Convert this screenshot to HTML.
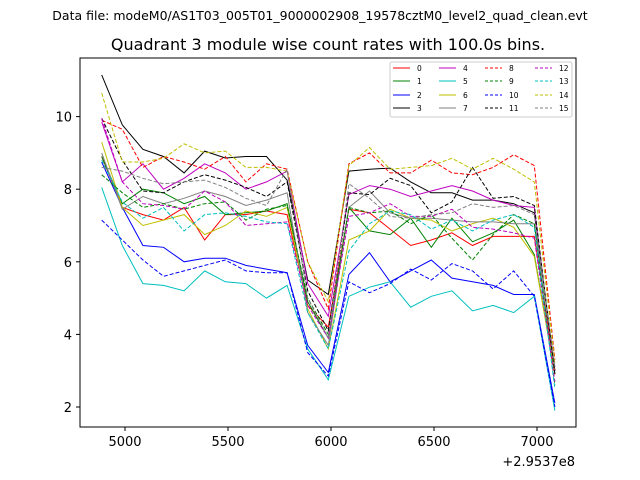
<!DOCTYPE html>
<html><head><meta charset="utf-8"><style>body{margin:0;background:#fff}svg{display:block;font-family:"DejaVu Sans","Liberation Sans",sans-serif}</style></head>
<body>
<svg id="chart" width="640" height="480" xmlns="http://www.w3.org/2000/svg">
<rect width="640" height="480" fill="#fff"/>
<text x="320" y="20" font-size="12.5" text-anchor="middle">Data file: modeM0/AS1T03_005T01_9000002908_19578cztM0_level2_quad_clean.evt</text>
<text x="328" y="50" font-size="16" text-anchor="middle">Quadrant 3 module wise count rates with 100.0s bins.</text>
<g id="grid"></g>
<g id="marks"></g>
<rect x="80" y="58" width="496" height="369" fill="none" stroke="#000" stroke-width="1"/>
<g id="axes"></g>
<text x="575" y="466" font-size="13" text-anchor="end">+2.9537e8</text>
<g id="legend"></g>
</svg>
<script>
const tStart = 4887, tStep = 100;
const xTicks = [5000, 5500, 6000, 6500, 7000];
const yTicks = [2, 4, 6, 8, 10];
const seriesNames = ["0","1","2","3","4","5","6","7","8","9","10","11","12","13","14","15"];
const s0 = [8.9,7.5,7.3,7.15,7.5,6.6,7.3,7.3,7.4,7.3,4.8,4.2,7.45,7.35,6.9,6.45,6.6,6.8,6.45,6.7,6.7,6.7,3.0];
const s1 = [8.9,7.6,8.0,7.9,7.6,7.8,7.3,7.35,7.4,7.6,4.9,3.9,7.5,6.85,6.75,7.2,6.4,7.2,6.55,6.8,7.15,6.2,2.9];
const s2 = [8.75,7.5,6.45,6.4,6.0,6.1,6.1,5.9,5.8,5.7,3.7,2.95,5.65,6.25,5.45,5.75,6.05,5.55,5.45,5.35,5.1,5.1,2.1];
const s3 = [11.15,9.77,9.1,8.9,8.45,9.05,8.86,8.9,8.9,8.25,5.5,5.1,8.5,8.55,8.58,8.2,7.9,7.9,7.7,7.7,7.6,7.35,3.0];
const s4 = [9.85,8.2,8.7,8.0,8.3,8.7,8.45,8.0,8.2,8.5,5.4,4.5,7.85,8.1,8.0,7.8,7.95,8.1,7.95,7.7,7.55,7.5,2.9];
const s5 = [8.05,6.45,5.4,5.35,5.2,5.75,5.45,5.4,5.0,5.35,3.6,2.75,5.05,5.3,5.45,4.75,5.05,5.2,4.65,4.8,4.6,5.05,1.9];
const s6 = [9.3,7.5,7.0,7.15,7.3,6.75,7.0,7.4,7.25,7.5,4.7,3.6,6.6,6.85,7.45,7.2,7.15,6.85,7.05,7.2,6.95,6.15,2.9];
const s7 = [9.0,7.45,7.8,7.6,7.75,7.95,7.8,7.55,7.7,7.9,4.6,3.7,7.5,7.95,7.35,7.2,7.2,7.15,7.1,7.1,7.05,7.05,3.1];
const s8 = [9.9,9.65,8.6,8.9,8.75,8.55,8.9,8.2,8.7,8.55,6.0,4.7,8.7,9.0,8.45,8.45,8.8,8.45,8.4,8.6,8.95,8.65,3.3];
const s9 = [8.4,7.9,7.5,7.6,7.45,7.6,7.65,7.15,7.45,7.55,5.0,4.0,7.5,7.35,7.4,7.05,7.3,6.65,6.05,6.75,7.3,7.05,2.6];
const s10 = [7.15,6.6,6.05,5.6,5.75,5.9,6.05,5.75,5.7,5.7,3.5,2.85,5.45,5.15,5.4,5.8,5.5,5.95,5.75,5.25,5.75,5.05,2.0];
const s11 = [9.95,8.8,7.95,7.9,8.2,8.4,8.25,8.05,7.8,8.2,5.2,4.1,7.9,7.85,8.3,8.1,7.35,7.65,8.6,7.75,7.8,7.55,2.9];
const s12 = [9.95,8.2,7.6,7.55,7.45,7.95,7.65,7.0,7.05,7.1,4.8,3.9,7.25,7.35,7.6,7.25,7.25,7.45,6.95,6.9,6.8,6.65,2.7];
const s13 = [8.8,7.65,7.2,7.5,6.85,7.3,7.35,7.25,7.1,7.05,4.6,3.6,6.3,7.05,7.4,7.3,6.9,7.15,6.85,7.15,7.3,6.95,2.5];
const s14 = [10.65,8.75,8.75,8.85,9.25,9.0,9.05,8.6,8.6,8.5,6.0,4.9,8.65,9.15,8.55,8.6,8.65,8.85,8.55,8.85,8.55,8.2,3.2];
const s15 = [8.6,8.5,8.3,8.15,8.2,8.25,8.05,7.75,7.55,8.55,5.0,3.9,8.15,7.75,7.25,7.2,7.3,7.35,7.6,7.5,7.55,7.3,3.1];
const seriesValues = [s0,s1,s2,s3,s4,s5,s6,s7,s8,s9,s10,s11,s12,s13,s14,s15];
const colors = ["#ff0000","#008000","#0000ff","#000000","#bf00bf","#00bfbf","#bfbf00","#808080"];

const NS = "http://www.w3.org/2000/svg";
const xScale = t => 125 + (t - 5000) * (103 / 500);
const yScale = v => 407 - (v - 2) * 36.3;
function mk(tag, attrs, parent) { const e = document.createElementNS(NS, tag); for (const k in attrs) e.setAttribute(k, attrs[k]); parent.appendChild(e); return e; }

const axes = document.getElementById('axes');
xTicks.forEach(t => {
  const x = xScale(t);
  const tk = mk('line', {x1:x, x2:x, y1:427, y2:431, stroke:'#000'}, axes);
  
  
  const lb = mk('text', {x:x, y:446, 'font-size':13, 'text-anchor':'middle'}, axes);
  lb.textContent = t;
  
  
});
yTicks.forEach(v => {
  const y = yScale(v);
  const tk = mk('line', {x1:76, x2:80, y1:y, y2:y, stroke:'#000'}, axes);
  
  
  const lb = mk('text', {x:72, y:y + 5, 'font-size':13, 'text-anchor':'end'}, axes);
  lb.textContent = v;
  
  
});

const marks = document.getElementById('marks');
seriesValues.forEach((vals, i) => {
  const pts = vals.map((v, j) => xScale(tStart + j * tStep).toFixed(1) + ',' + yScale(v).toFixed(1)).join(' ');
  const pl = mk('polyline', {points:pts, fill:'none', stroke:colors[i % 8], 'stroke-width':1, 'stroke-dasharray': i >= 8 ? '4,2' : 'none'}, marks);
  
  
});

const lg = document.getElementById('legend');
const box = mk('rect', {x:390, y:62, width:182, height:55, fill:'#fff', stroke:'#ccc', rx:2}, lg);


const colX = [393, 439, 485, 535];
const rowY = [68, 81, 95, 108];
seriesNames.forEach((n, i) => {
  const c = Math.floor(i / 4), r = i % 4;
  const g = mk('g', {}, lg);
  
  
  mk('line', {x1:colX[c], x2:colX[c] + 17, y1:rowY[r], y2:rowY[r], stroke:colors[i % 8], 'stroke-width':1, 'stroke-dasharray': i >= 8 ? '3,2' : 'none'}, g);
  const t = mk('text', {x:colX[c] + 24, y:rowY[r] + 3, 'font-size':7.5}, g);
  t.textContent = n;
});
</script>
</body></html>
